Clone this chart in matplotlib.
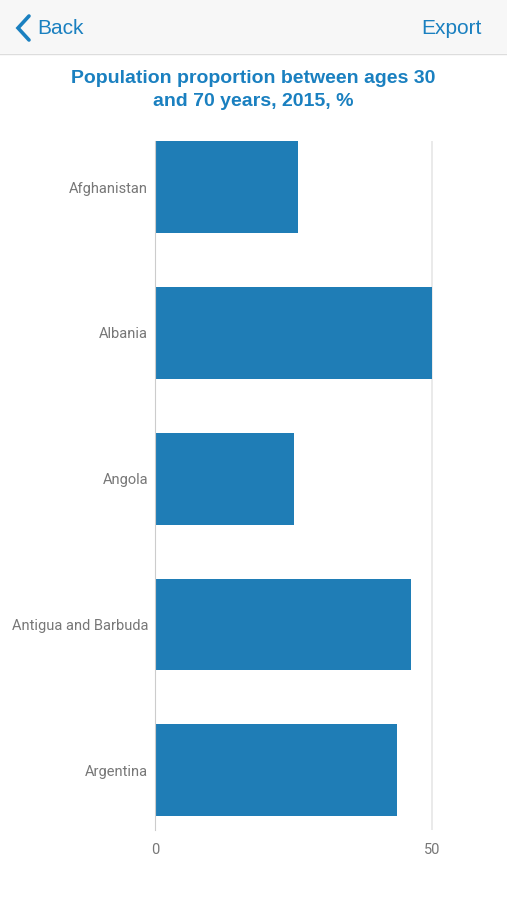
import matplotlib
matplotlib.use("Agg")
import matplotlib.pyplot as plt
from matplotlib.lines import Line2D
from matplotlib.patches import Rectangle

# データ
countries = ["Afghanistan", "Albania", "Angola", "Antigua and Barbuda", "Argentina"]
values = [25.8, 50.0, 25.1, 46.2, 43.7]
xticks = [0, 50]

blue = "#1f7db6"
text_blue = "#1a80c0"
gray = "#777777"

W, H = 507, 900
fig = plt.figure(figsize=(W / 100, H / 100), dpi=100)
fig.patch.set_facecolor("white")

# ヘッダー
fig.add_artist(Rectangle((0, 1 - 53 / H), 1, 53 / H, transform=fig.transFigure,
                         facecolor="#f7f7f7", edgecolor="none", zorder=0))
fig.add_artist(Line2D([0, 1], [1 - 53.5 / H, 1 - 53.5 / H], transform=fig.transFigure,
                      color="#dddddd", lw=1))
fig.add_artist(Line2D([29 / W, 18 / W, 29 / W], [1 - 16 / H, 1 - 28 / H, 1 - 40 / H],
                      transform=fig.transFigure, color=text_blue, lw=2.6,
                      solid_capstyle="round", solid_joinstyle="miter"))
fig.text(37 / W, 1 - 28 / H, "Back", color=text_blue, fontsize=15,
         family="Liberation Sans", ha="left", va="center")
fig.text(482 / W, 1 - 28 / H, "Export", color=text_blue, fontsize=15,
         family="Liberation Sans", ha="right", va="center")

# タイトル
fig.text(0.5, 1 - 90 / H, "Population proportion between ages 30\nand 70 years, 2015, %",
         color=text_blue, fontsize=14, fontweight="bold", family="Liberation Sans",
         ha="center", va="center", linespacing=1.42)

# グラフ
ax = fig.add_axes([155 / W, 1 - 830 / H, 305 / W, 689 / H])
ax.barh(range(len(countries)), values, height=0.63, color=blue, zorder=2)
ax.set_ylim(4.41, -0.316)
ax.set_xlim(0, 55)
ax.set_yticks(range(len(countries)))
ax.set_yticklabels(countries)
ax.set_xticks(xticks)
ax.tick_params(axis="both", length=0, colors=gray, labelsize=10.5)
ax.tick_params(axis="x", pad=9)
ax.tick_params(axis="y", pad=5)
for lab in ax.get_xticklabels() + ax.get_yticklabels():
    lab.set_family("Roboto")
for s in ["top", "right", "bottom"]:
    ax.spines[s].set_visible(False)
ax.spines["left"].set_color("#cccccc")
ax.spines["left"].set_zorder(3)
ax.axvline(50, color="#e6e6e6", lw=1.2, zorder=1)
ax.set_facecolor("white")

fig.savefig("out.png", dpi=100)
